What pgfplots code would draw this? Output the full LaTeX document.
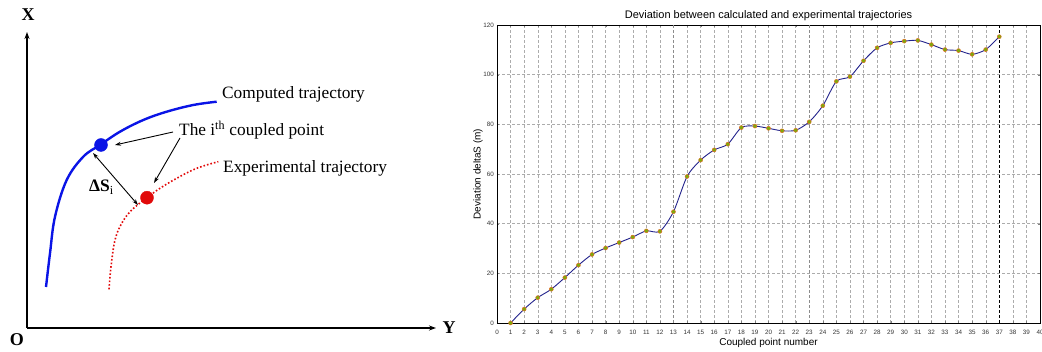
\documentclass[border=0pt]{standalone}
\usepackage{fontspec}
\setmainfont{Liberation Serif}
\newfontfamily\arial{Liberation Sans}
\usepackage{pgfplots}
\pgfplotsset{compat=1.18}
\usetikzlibrary{arrows.meta}
\definecolor{cblue}{RGB}{10,20,230}
\definecolor{cred}{RGB}{225,10,10}
\definecolor{navy}{RGB}{35,35,140}
\definecolor{mfill}{RGB}{125,170,10}
\definecolor{medge}{RGB}{225,110,40}
\pgfplotstableread{
n d
1 0
2 5.6
3 10.2
4 13.6
5 18.3
6 23.3
7 27.6
8 30.2
9 32.4
10 34.6
11 37.1
12 36.9
13 44.8
14 59
15 65.6
16 69.7
17 72.0
18 78.7
19 79.3
20 78.4
21 77.4
22 77.6
23 81.0
24 87.5
25 97.3
26 99.2
27 105.6
28 110.8
29 112.8
30 113.5
31 113.8
32 112.1
33 110.1
34 109.7
35 108.2
36 110.1
37 115.3
}\devtable
\begin{document}
\begin{tikzpicture}[x=1pt,y=1pt]
% ---------------- left schematic ----------------
\begin{axis}[at={(0pt,0pt)}, anchor=south west, scale only axis,
  width=450pt, height=351pt, xmin=0, xmax=450, ymin=0, ymax=351,
  axis lines=none, clip=false]
\addplot[black, line width=1.2pt, -{Stealth[length=7pt,width=5pt]}] coordinates {(27,23) (27,319)};
\addplot[black, line width=1.2pt, -{Stealth[length=7pt,width=5pt]}] coordinates {(27,23) (436,23)};
\addplot[cblue, line width=2.4pt, smooth, tension=0.6] coordinates {
(46,64) (50,97.7) (55,134.3) (66.7,171) (83.3,194.3) (100,206) (120,219.3)
(143.3,231) (166.7,239.3) (193.3,246) (216.7,249.3)};
\addplot[cred, line width=1.6pt, dotted, smooth, tension=0.6] coordinates {
(109,61.7) (111,84.3) (115,111) (121.7,127.7) (131.7,141) (147,153.3)
(160,162.7) (176.7,172.7) (196.7,182.7) (218.3,189.3)};
\addplot[only marks, mark=*, mark size=6.5pt, cblue, mark options={draw=cblue, fill=cblue}] coordinates {(101,206)};
\addplot[only marks, mark=*, mark size=6.5pt, cred, mark options={draw=cred, fill=cred}] coordinates {(147,153.3)};
\addplot[black, line width=0.9pt, -{Stealth[length=6pt,width=4pt]}] coordinates {(173,219) (115,206)};
\addplot[black, line width=0.9pt, -{Stealth[length=6pt,width=4pt]}] coordinates {(180,213) (154,168)};
\addplot[black, line width=0.9pt, {Stealth[length=6pt,width=4pt]}-{Stealth[length=6pt,width=4pt]}] coordinates {(93,198) (138,146)};
\node[anchor=west, inner sep=0pt, font=\fontsize{17.3}{19}\selectfont] at (axis cs:222,257) {Computed trajectory};
\node[anchor=west, inner sep=0pt, font=\fontsize{17.3}{19}\selectfont] at (axis cs:179,221) {The i\textsuperscript{th} coupled point};
\node[anchor=west, inner sep=0pt, font=\fontsize{17.3}{19}\selectfont] at (axis cs:223,183) {Experimental trajectory};
\node[anchor=west, inner sep=0pt, font=\fontsize{17.5}{19}\selectfont] at (axis cs:89,164) {\textbf{ΔS}\textsubscript{i}};
\node[inner sep=0pt, font=\bfseries\fontsize{18}{20}\selectfont] at (axis cs:28,336) {X};
\node[inner sep=0pt, font=\bfseries\fontsize{18}{20}\selectfont] at (axis cs:17,11) {O};
\node[inner sep=0pt, font=\bfseries\fontsize{18}{20}\selectfont] at (axis cs:449,23) {Y};
\end{axis}
% ---------------- right plot ----------------
\begin{axis}[at={(497pt,28pt)}, anchor=south west, scale only axis,
  width=543pt, height=298pt,
  xmin=0, xmax=40, ymin=0, ymax=120,
  xtick={0,...,40}, ytick={0,20,...,120},
  grid=major, major grid style={densely dashed, gray!65, line width=0.4pt},
  tick align=inside, major tick length=2pt,
  axis line style={black, line width=0.6pt},
  /pgf/number format/assume math mode=true,
  ticklabel style={font=\arial\fontsize{6.3}{7}\selectfont, text=black!80},
  xticklabel style={anchor=center, inner sep=0pt, yshift=-9pt},
  yticklabel style={anchor=east, inner sep=0pt, xshift=-3pt},
  title={Deviation between calculated and experimental trajectories},
  title style={font=\arial\fontsize{11}{13}\selectfont, at={(axis description cs:0.5,1)}, anchor=base, yshift=0pt},
  xlabel={Coupled point number},
  xlabel style={font=\arial\fontsize{10}{12}\selectfont, at={(axis description cs:0.5,-0.067)}, anchor=center},
  ylabel={Deviation deltaS (m)},
  ylabel style={font=\arial\fontsize{10}{12}\selectfont, at={(axis description cs:-0.035,0.5)}, anchor=center},
  clip=false]
\addplot[gray!90, densely dashed, line width=0.4pt] coordinates {(13,0) (13,120)};
\addplot[gray!90, densely dashed, line width=0.4pt] coordinates {(23,0) (23,120)};
\addplot[black, densely dashed, line width=0.6pt] coordinates {(37,0) (37,120)};
\addplot[navy, line width=0.9pt, smooth, tension=0.45] table[x=n, y=d] {\devtable};
\addplot[only marks, mark=*, mark size=2pt, mark options={fill=mfill, draw=medge, line width=0.5pt}] table[x=n, y=d] {\devtable};
\end{axis}
\pgfresetboundingbox
\useasboundingbox (0pt,0pt) rectangle (1042pt,351pt);
\end{tikzpicture}
\end{document}
